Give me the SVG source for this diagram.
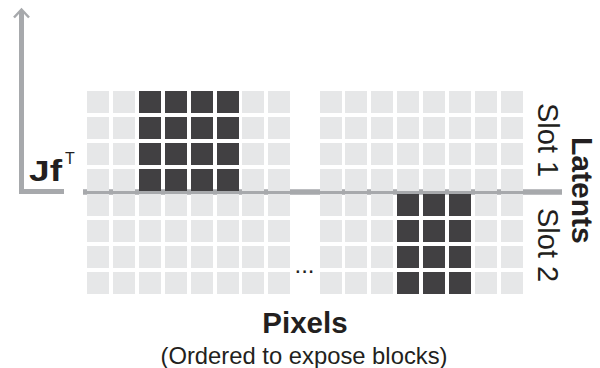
<svg xmlns="http://www.w3.org/2000/svg" width="600" height="368" viewBox="0 0 600 368">
<style>
.l{fill:#e6e7e8}
.d{fill:#414042}
.ax{stroke:#a7a9ac;fill:none}
.t{font-family:"Liberation Sans",Arial,Helvetica,sans-serif;fill:#231f20}
</style>
<defs>
<rect id="c" width="22" height="22"/>
</defs>
<rect width="600" height="368" fill="#ffffff"/>
<g id="connectors">
<line class="ax" x1="83" y1="192" x2="562" y2="192" stroke-width="5.5"/>
<path class="ax" d="M21.5,11 V191.5 H64" stroke-width="5" stroke-linejoin="miter"/>
<polyline class="ax" points="14,17.5 21.5,9.5 29,17.5" stroke-width="2.5" stroke-linejoin="miter"/>
</g>
<g id="slot1-pixels-left">
<use href="#c" class="l" x="87" y="91"/><use href="#c" class="l" x="113" y="91"/><use href="#c" class="d" x="139" y="91"/><use href="#c" class="d" x="165" y="91"/><use href="#c" class="d" x="191" y="91"/><use href="#c" class="d" x="217" y="91"/><use href="#c" class="l" x="242" y="91"/><use href="#c" class="l" x="268" y="91"/>
<use href="#c" class="l" x="87" y="117"/><use href="#c" class="l" x="113" y="117"/><use href="#c" class="d" x="139" y="117"/><use href="#c" class="d" x="165" y="117"/><use href="#c" class="d" x="191" y="117"/><use href="#c" class="d" x="217" y="117"/><use href="#c" class="l" x="242" y="117"/><use href="#c" class="l" x="268" y="117"/>
<use href="#c" class="l" x="87" y="143"/><use href="#c" class="l" x="113" y="143"/><use href="#c" class="d" x="139" y="143"/><use href="#c" class="d" x="165" y="143"/><use href="#c" class="d" x="191" y="143"/><use href="#c" class="d" x="217" y="143"/><use href="#c" class="l" x="242" y="143"/><use href="#c" class="l" x="268" y="143"/>
<use href="#c" class="l" x="87" y="169"/><use href="#c" class="l" x="113" y="169"/><use href="#c" class="d" x="139" y="169"/><use href="#c" class="d" x="165" y="169"/><use href="#c" class="d" x="191" y="169"/><use href="#c" class="d" x="217" y="169"/><use href="#c" class="l" x="242" y="169"/><use href="#c" class="l" x="268" y="169"/>
</g>
<g id="slot1-pixels-right">
<use href="#c" class="l" x="320" y="91"/><use href="#c" class="l" x="345" y="91"/><use href="#c" class="l" x="371" y="91"/><use href="#c" class="l" x="397" y="91"/><use href="#c" class="l" x="423" y="91"/><use href="#c" class="l" x="449" y="91"/><use href="#c" class="l" x="475" y="91"/><use href="#c" class="l" x="501" y="91"/>
<use href="#c" class="l" x="320" y="117"/><use href="#c" class="l" x="345" y="117"/><use href="#c" class="l" x="371" y="117"/><use href="#c" class="l" x="397" y="117"/><use href="#c" class="l" x="423" y="117"/><use href="#c" class="l" x="449" y="117"/><use href="#c" class="l" x="475" y="117"/><use href="#c" class="l" x="501" y="117"/>
<use href="#c" class="l" x="320" y="143"/><use href="#c" class="l" x="345" y="143"/><use href="#c" class="l" x="371" y="143"/><use href="#c" class="l" x="397" y="143"/><use href="#c" class="l" x="423" y="143"/><use href="#c" class="l" x="449" y="143"/><use href="#c" class="l" x="475" y="143"/><use href="#c" class="l" x="501" y="143"/>
<use href="#c" class="l" x="320" y="169"/><use href="#c" class="l" x="345" y="169"/><use href="#c" class="l" x="371" y="169"/><use href="#c" class="l" x="397" y="169"/><use href="#c" class="l" x="423" y="169"/><use href="#c" class="l" x="449" y="169"/><use href="#c" class="l" x="475" y="169"/><use href="#c" class="l" x="501" y="169"/>
</g>
<g id="slot2-pixels-left">
<use href="#c" class="l" x="87" y="194"/><use href="#c" class="l" x="113" y="194"/><use href="#c" class="l" x="139" y="194"/><use href="#c" class="l" x="165" y="194"/><use href="#c" class="l" x="191" y="194"/><use href="#c" class="l" x="217" y="194"/><use href="#c" class="l" x="242" y="194"/><use href="#c" class="l" x="268" y="194"/>
<use href="#c" class="l" x="87" y="220"/><use href="#c" class="l" x="113" y="220"/><use href="#c" class="l" x="139" y="220"/><use href="#c" class="l" x="165" y="220"/><use href="#c" class="l" x="191" y="220"/><use href="#c" class="l" x="217" y="220"/><use href="#c" class="l" x="242" y="220"/><use href="#c" class="l" x="268" y="220"/>
<use href="#c" class="l" x="87" y="246"/><use href="#c" class="l" x="113" y="246"/><use href="#c" class="l" x="139" y="246"/><use href="#c" class="l" x="165" y="246"/><use href="#c" class="l" x="191" y="246"/><use href="#c" class="l" x="217" y="246"/><use href="#c" class="l" x="242" y="246"/><use href="#c" class="l" x="268" y="246"/>
<use href="#c" class="l" x="87" y="272"/><use href="#c" class="l" x="113" y="272"/><use href="#c" class="l" x="139" y="272"/><use href="#c" class="l" x="165" y="272"/><use href="#c" class="l" x="191" y="272"/><use href="#c" class="l" x="217" y="272"/><use href="#c" class="l" x="242" y="272"/><use href="#c" class="l" x="268" y="272"/>
</g>
<g id="slot2-pixels-right">
<use href="#c" class="l" x="320" y="194"/><use href="#c" class="l" x="345" y="194"/><use href="#c" class="l" x="371" y="194"/><use href="#c" class="d" x="397" y="194"/><use href="#c" class="d" x="423" y="194"/><use href="#c" class="d" x="449" y="194"/><use href="#c" class="l" x="475" y="194"/><use href="#c" class="l" x="501" y="194"/>
<use href="#c" class="l" x="320" y="220"/><use href="#c" class="l" x="345" y="220"/><use href="#c" class="l" x="371" y="220"/><use href="#c" class="d" x="397" y="220"/><use href="#c" class="d" x="423" y="220"/><use href="#c" class="d" x="449" y="220"/><use href="#c" class="l" x="475" y="220"/><use href="#c" class="l" x="501" y="220"/>
<use href="#c" class="l" x="320" y="246"/><use href="#c" class="l" x="345" y="246"/><use href="#c" class="l" x="371" y="246"/><use href="#c" class="d" x="397" y="246"/><use href="#c" class="d" x="423" y="246"/><use href="#c" class="d" x="449" y="246"/><use href="#c" class="l" x="475" y="246"/><use href="#c" class="l" x="501" y="246"/>
<use href="#c" class="l" x="320" y="272"/><use href="#c" class="l" x="345" y="272"/><use href="#c" class="l" x="371" y="272"/><use href="#c" class="d" x="397" y="272"/><use href="#c" class="d" x="423" y="272"/><use href="#c" class="d" x="449" y="272"/><use href="#c" class="l" x="475" y="272"/><use href="#c" class="l" x="501" y="272"/>
</g>
<g id="labels">
<text class="t" x="29" y="181" font-weight="bold" font-size="30" textLength="33" lengthAdjust="spacingAndGlyphs">Jf</text>
<text class="t" x="65" y="164" font-size="16">T</text>
<text class="t" x="294.5" y="272.5" font-size="24">...</text>
<text class="t" transform="translate(538,103) rotate(90)" font-size="29">Slot 1</text>
<text class="t" transform="translate(538,208) rotate(90)" font-size="29">Slot 2</text>
<text class="t" transform="translate(572,137) rotate(90)" font-size="30" font-weight="bold">Latents</text>
<text class="t" x="305" y="333" font-size="29.5" font-weight="bold" text-anchor="middle">Pixels</text>
<text class="t" x="304" y="364" font-size="23.8" text-anchor="middle">(Ordered to expose blocks)</text>
</g>
</svg>
